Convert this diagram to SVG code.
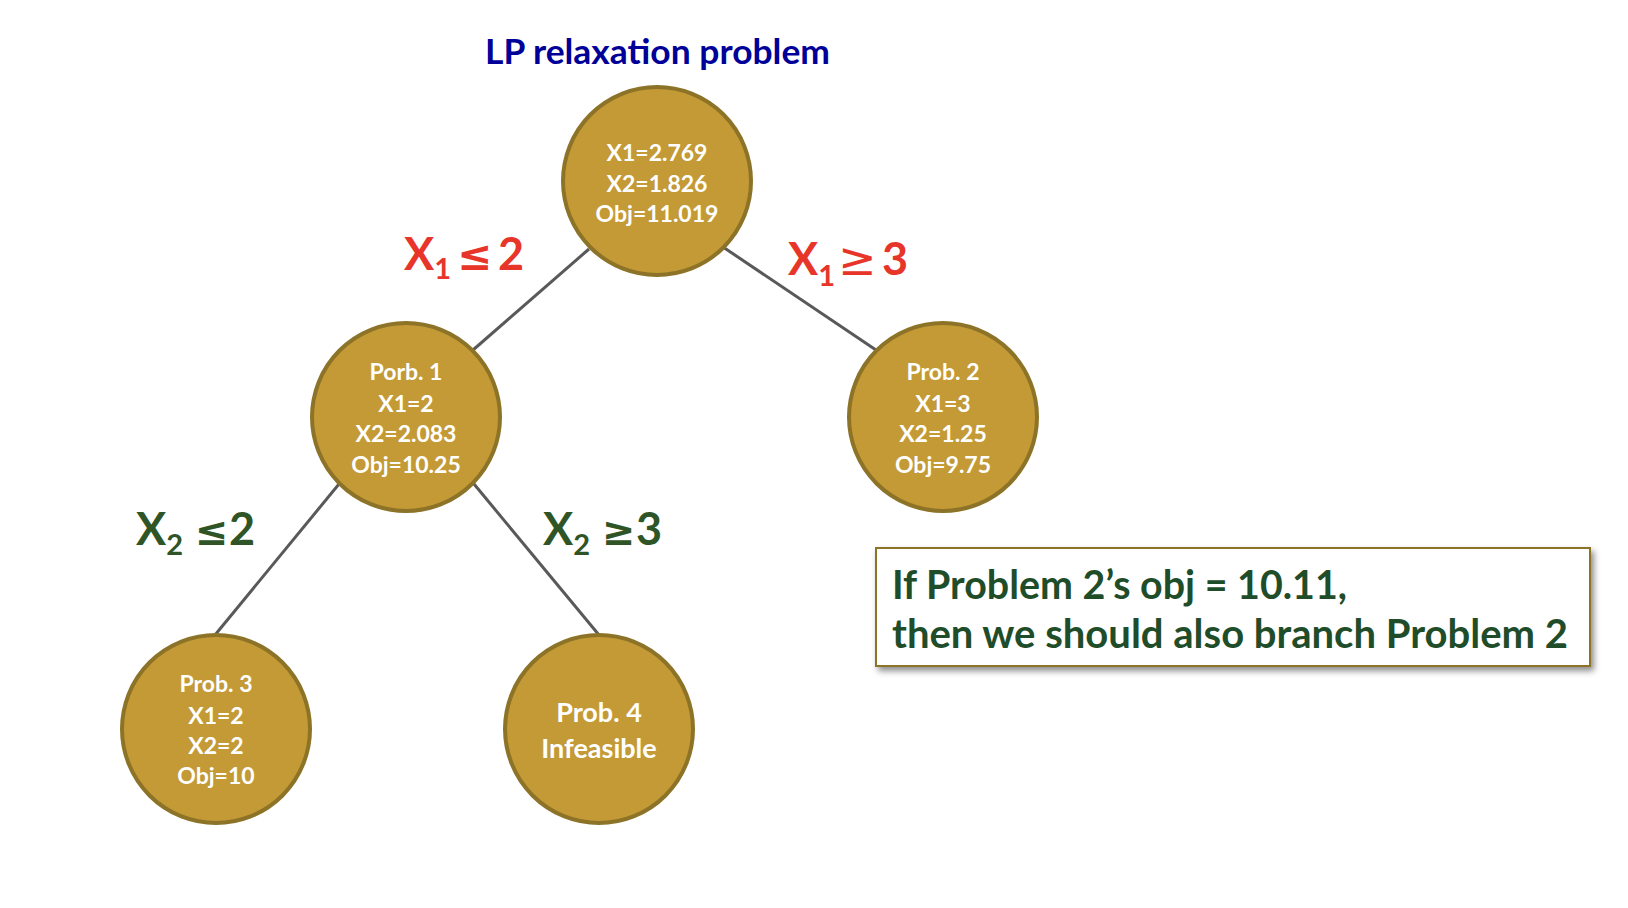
<svg xmlns="http://www.w3.org/2000/svg" width="1628" height="908" viewBox="0 0 1628 908">
<defs>
<style>
.node circle{fill:#C39A35;stroke:#8C7327;stroke-width:4}
.nt{font-family:Lato,"Open Sans","Liberation Sans",sans-serif;font-weight:bold;font-size:23px;fill:#ffffff;text-anchor:middle}
.nt4{font-size:27px}
.edge{stroke:#595959;stroke-width:3;fill:none}
.lbl{font-family:Lato,"Open Sans","Liberation Sans",sans-serif;font-weight:bold;font-size:45px}
.sub{font-size:29px}
.sym{font-family:"DejaVu Sans",sans-serif;font-weight:bold}
.thin{font-family:"DejaVu Sans",sans-serif;font-weight:normal}
.red{fill:#E8352A}
.green{fill:#2F5526}
.title{font-family:Lato,"Open Sans","Liberation Sans",sans-serif;font-weight:bold;font-size:35px;fill:#000099}
.note{font-family:Lato,"Open Sans","Liberation Sans",sans-serif;font-weight:bold;font-size:40px;fill:#1F4D2A}
</style>
<filter id="shadow" x="-5%" y="-20%" width="112%" height="150%">
<feDropShadow dx="3" dy="4" stdDeviation="3" flood-color="#000000" flood-opacity="0.45"/>
</filter>
</defs>
<rect width="1628" height="908" fill="#ffffff"/>

<text id="title" class="title" x="485" y="64" textLength="345" lengthAdjust="spacingAndGlyphs">LP relaxation problem</text>

<g id="connectors">
<line class="edge" x1="589" y1="249" x2="473" y2="350"/>
<line class="edge" x1="723" y1="247" x2="876" y2="350"/>
<line class="edge" x1="339" y1="484" x2="215" y2="635"/>
<line class="edge" x1="474" y1="484" x2="599" y2="635"/>
</g>

<g id="root" class="node">
<circle cx="657" cy="181" r="94"/>
<text class="nt" x="657" y="160.5">X1=2.769</text>
<text class="nt" x="657" y="191.5">X2=1.826</text>
<text class="nt" x="657" y="222">Obj=11.019</text>
</g>

<g id="prob1" class="node">
<circle cx="406" cy="417" r="94"/>
<text class="nt" x="406" y="380">Porb. 1</text>
<text class="nt" x="406" y="411.5">X1=2</text>
<text class="nt" x="406" y="442">X2=2.083</text>
<text class="nt" x="406" y="472.5">Obj=10.25</text>
</g>

<g id="prob2" class="node">
<circle cx="943" cy="417" r="94"/>
<text class="nt" x="943" y="380">Prob. 2</text>
<text class="nt" x="943" y="411.5">X1=3</text>
<text class="nt" x="943" y="442">X2=1.25</text>
<text class="nt" x="943" y="472.5">Obj=9.75</text>
</g>

<g id="prob3" class="node">
<circle cx="216" cy="729" r="94"/>
<text class="nt" x="216" y="692">Prob. 3</text>
<text class="nt" x="216" y="723.5">X1=2</text>
<text class="nt" x="216" y="754">X2=2</text>
<text class="nt" x="216" y="784">Obj=10</text>
</g>

<g id="prob4" class="node">
<circle cx="599" cy="729" r="94"/>
<text class="nt nt4" x="599" y="722">Prob. 4</text>
<text class="nt nt4" x="599" y="757.5">Infeasible</text>
</g>

<g id="labels">
<text class="lbl red"><tspan x="404" y="270">X</tspan><tspan class="sub" y="279">1</tspan><tspan class="sym" font-size="42" x="457" y="270">≤</tspan><tspan x="498" y="270">2</tspan></text>
<text class="lbl red"><tspan x="788" y="275">X</tspan><tspan class="sub" y="286">1</tspan><tspan class="thin" font-size="46" x="838" y="275">≥</tspan><tspan x="882" y="275">3</tspan></text>
<text class="lbl green"><tspan x="136" y="545">X</tspan><tspan class="sub" y="555">2</tspan><tspan class="sym" font-size="40" x="195" y="545">≤</tspan><tspan x="229" y="545">2</tspan></text>
<text class="lbl green"><tspan x="543" y="545">X</tspan><tspan class="sub" y="555">2</tspan><tspan class="sym" font-size="40" x="602" y="545">≥</tspan><tspan x="636" y="545">3</tspan></text>
</g>

<g id="note">
<rect x="876" y="548" width="714" height="118" fill="#ffffff" stroke="#8C7327" stroke-width="2" filter="url(#shadow)"/>
<text class="note" x="892" y="599" textLength="455" lengthAdjust="spacingAndGlyphs">If Problem 2’s obj = 10.11,</text>
<text class="note" x="892" y="648" textLength="676" lengthAdjust="spacingAndGlyphs">then we should also branch Problem 2</text>
</g>
</svg>
